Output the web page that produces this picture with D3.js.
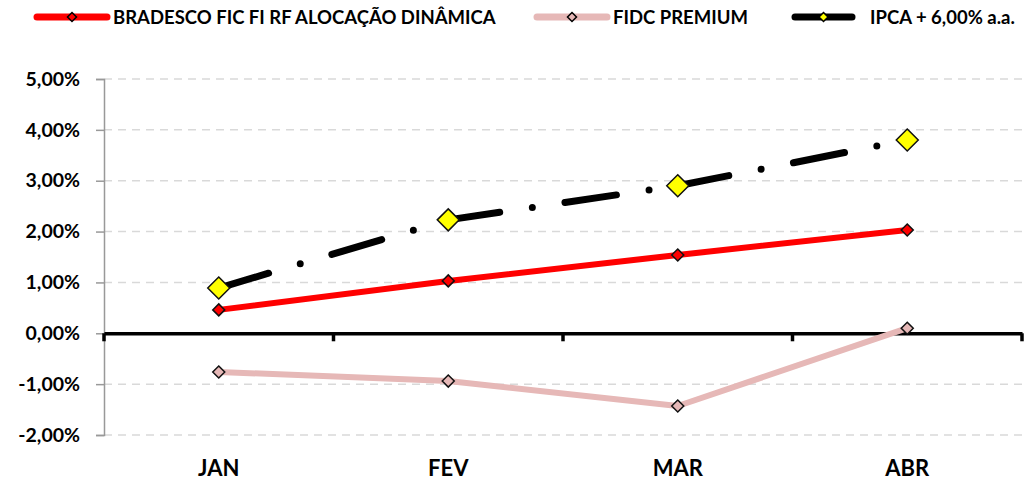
<!DOCTYPE html>
<html>
<head>
<meta charset="utf-8">
<script src="https://cdn.jsdelivr.net/npm/d3@7"></script>
<style>
  body { margin: 0; background: #fff; }
  text { font-family: Lato, "Open Sans", sans-serif; font-weight: bold; fill: #000; }
</style>
</head>
<body>
<svg id="chart" width="1025" height="481"></svg>
<script>
// data
var months = ["JAN", "FEV", "MAR", "ABR"];
var bradesco = [0.46, 1.03, 1.54, 2.03];
var fidc = [-0.76, -0.94, -1.43, 0.10];
var ipca = [0.89, 2.23, 2.90, 3.80];
var yTicks = [-2, -1, 0, 1, 2, 3, 4, 5];

var seriesNames = ["BRADESCO FIC FI RF ALOCAÇÃO DINÂMICA", "FIDC PREMIUM", "IPCA + 6,00% a.a."];

var margin = {left: 104, right: 3, top: 79, bottom: 46};
var width = 1025, height = 481;

var svg = d3.select("#chart");

var x = d3.scaleBand()
    .domain(months)
    .range([margin.left, width - margin.right]);

var y = d3.scaleLinear()
    .domain([-2, 5])
    .range([height - margin.bottom, margin.top]);

var fmt = function(v) { return v.toFixed(2).replace(".", ",") + "%"; };

// dashed grid
svg.append("g")
    .selectAll("line")
    .data(yTicks.filter((d) => d !== 0))
    .enter().append("line")
    .attr("x1", margin.left)
    .attr("x2", width - margin.right)
    .attr("y1", (d) => y(d))
    .attr("y2", (d) => y(d))
    .style("stroke", "#d9d9d9")
    .style("stroke-width", 1.5)
    .style("stroke-dasharray", "8,6");

// y axis
var yAxis = svg.append("g")
    .attr("transform", "translate(" + margin.left + ",0)")
    .call(d3.axisLeft(y).tickValues(yTicks).tickFormat(fmt).tickSize(8).tickPadding(16));
yAxis.select(".domain").style("stroke", "#999").style("stroke-width", 1.5);
yAxis.selectAll(".tick line").style("stroke", "#999").style("stroke-width", 1.5);
yAxis.selectAll("text")
    .style("font-size", "19.5px")
    .style("font-family", "Lato, sans-serif")
    .style("font-weight", "bold")
    .attr("fill", "#000");

// zero line with category ticks
var xAxis = svg.append("g")
    .attr("transform", "translate(0," + y(0) + ")")
    .call(d3.axisBottom(x).tickSize(0).tickFormat(""));
xAxis.select(".domain").style("stroke", "#000").style("stroke-width", 3.5);
var bounds = months.map((m) => x(m)).concat([x(months[months.length - 1]) + x.bandwidth()]);
xAxis.selectAll(".cattick")
    .data(bounds)
    .enter().append("line")
    .attr("x1", (d) => d).attr("x2", (d) => d)
    .attr("y1", 0).attr("y2", 8)
    .style("stroke", "#000")
    .style("stroke-width", 3.5);

// x labels
svg.append("g")
    .selectAll("text")
    .data(months)
    .enter().append("text")
    .attr("x", (d) => x(d) + x.bandwidth() / 2)
    .attr("y", 476)
    .attr("text-anchor", "middle")
    .style("font-size", "22px")
    .text((d) => d);

var cx = (i) => x(months[i]) + x.bandwidth() / 2;
var line = d3.line().x((d) => cx(d.i)).y((d) => y(d.v));
var pts = (arr) => arr.map((v, i) => ({i: i, v: v}));

function diamond(r) {
    return "M0," + (-r) + "L" + r + ",0L0," + r + "L" + (-r) + ",0Z";
}

// FIDC
svg.append("path")
    .datum(pts(fidc))
    .attr("d", line)
    .style("fill", "none")
    .style("stroke", "#e6b8b7")
    .style("stroke-width", 6)
    .style("stroke-linejoin", "round");

// BRADESCO
svg.append("path")
    .datum(pts(bradesco))
    .attr("d", line)
    .style("fill", "none")
    .style("stroke", "#ff0000")
    .style("stroke-width", 6)
    .style("stroke-linejoin", "round");

// IPCA dash-dot, pattern restarts at each point
var ipcaPts = pts(ipca);
svg.append("g")
    .selectAll("path")
    .data(d3.pairs(ipcaPts))
    .enter().append("path")
    .attr("d", (d) => line(d))
    .style("fill", "none")
    .style("stroke", "#000")
    .style("stroke-width", 7)
    .style("stroke-linecap", "round")
    .style("stroke-dasharray", "52,33,0,33");

function markers(data, r, fill) {
    svg.append("g")
        .selectAll("path")
        .data(pts(data))
        .enter().append("path")
        .attr("transform", (d) => "translate(" + cx(d.i) + "," + y(d.v) + ")")
        .attr("d", diamond(r))
        .style("fill", fill)
        .style("stroke", "#111")
        .style("stroke-width", 1.5);
}
markers(fidc, 6, "#e6b8b7");
markers(bradesco, 6, "#ff0000");
markers(ipca, 11, "#ffff00");

// legend
var legend = [
    {name: seriesNames[0], color: "#ff0000", mark: "#ff0000", x1: 37, x2: 107, tx: 113},
    {name: seriesNames[1], color: "#e6b8b7", mark: "#e6b8b7", x1: 537, x2: 607, tx: 613},
    {name: seriesNames[2], color: "#000", mark: "#ffff00", x1: 795, x2: 852, tx: 870}
];
var lg = svg.append("g").selectAll("g").data(legend).enter().append("g");
lg.append("line")
    .attr("x1", (d) => d.x1).attr("x2", (d) => d.x2)
    .attr("y1", 17).attr("y2", 17)
    .style("stroke", (d) => d.color)
    .style("stroke-width", 7)
    .style("stroke-linecap", "round");
lg.append("path")
    .attr("transform", (d) => "translate(" + ((d.x1 + d.x2) / 2) + ",17)")
    .attr("d", diamond(4.5))
    .style("fill", (d) => d.mark)
    .style("stroke", "#000")
    .style("stroke-width", 1.5);
lg.append("text")
    .attr("x", (d) => d.tx)
    .attr("y", 23.5)
    .style("font-size", "18.5px")
    .text((d) => d.name);
</script>
</body>
</html>
